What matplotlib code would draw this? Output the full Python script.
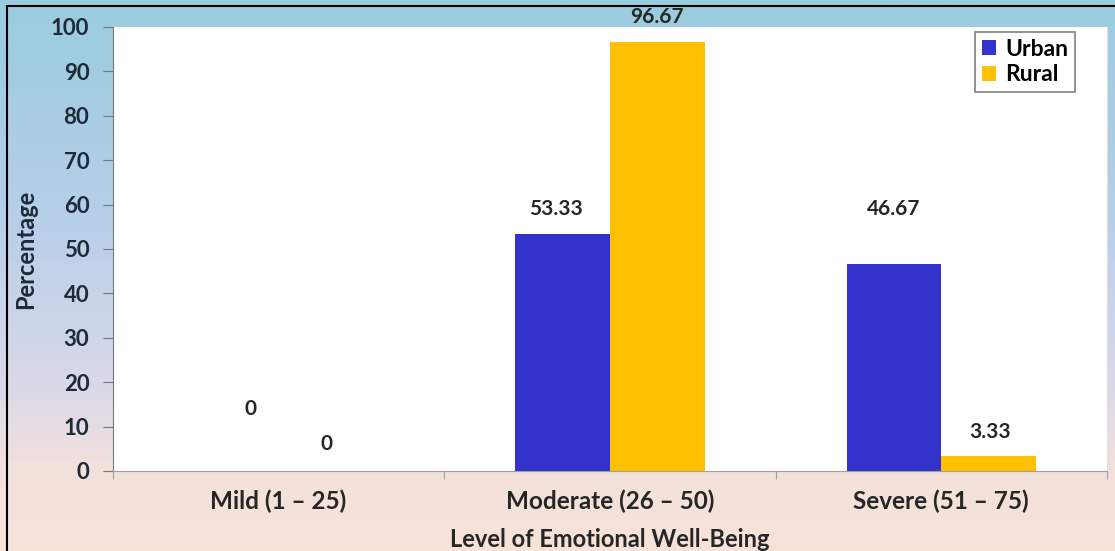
import numpy as np
import matplotlib.pyplot as plt
from matplotlib.colors import LinearSegmentedColormap
from matplotlib.lines import Line2D

categories = ['Mild (1 – 25)', 'Moderate (26 – 50)', 'Severe (51 – 75)']
urban = [0, 53.33, 46.67]
rural = [0, 96.67, 3.33]
yticks = [0, 10, 20, 30, 40, 50, 60, 70, 80, 90, 100]

plt.rcParams['font.family'] = ['Lato', 'DejaVu Sans']
plt.rcParams['font.weight'] = 'bold'
plt.rcParams['axes.labelweight'] = 'bold'

fig = plt.figure(figsize=(11.15, 5.51), dpi=100)

# background gradient: light blue at the top fading to peach at the bottom
bg = fig.add_axes([0, 0, 1, 1], zorder=-10)
cmap = LinearSegmentedColormap.from_list('bg', [
    (0.0, (0.60, 0.80, 0.87)),
    (0.40, (0.72, 0.81, 0.91)),
    (0.70, (0.85, 0.85, 0.91)),
    (0.85, (0.95, 0.88, 0.86)),
    (1.0, (0.97, 0.89, 0.85)),
])
bg.imshow(np.linspace(0, 1, 256).reshape(-1, 1), aspect='auto', cmap=cmap,
          extent=[0, 1, 0, 1])
bg.set_axis_off()

ax = fig.add_axes([0.1013, 0.1452, 0.8915, 0.8058])
ax.set_facecolor('white')

x = np.arange(len(categories))
w = 0.286
ax.bar(x - w / 2, urban, w, color='#3333cc', label='Urban', zorder=2)
ax.bar(x + w / 2, rural, w, color='#ffc000', label='Rural', zorder=2)

ax.set_xlim(-0.5, 2.5)
ax.set_ylim(0, 100)
ax.set_yticks(yticks)
ax.set_yticklabels([str(t) for t in yticks], fontweight='bold')
ax.set_xticks([-0.5, 0.5, 1.5, 2.5], minor=False)
ax.set_xticklabels([])
ax.set_xticks(x, minor=True)
ax.set_xticklabels(categories, minor=True, fontweight='bold')
ax.tick_params(axis='x', which='minor', length=0, pad=13, labelsize=17.5,
               labelcolor='#262626')
ax.tick_params(axis='x', which='major', length=6, color='#a0a0a0', direction='out')
ax.tick_params(axis='y', length=7, color='#707880', pad=10, labelsize=16,
               labelcolor='#1c2a3a')

ax.spines['top'].set_visible(False)
ax.spines['right'].set_color('#e0e0e0')
ax.spines['left'].set_color('#707880')
ax.spines['bottom'].set_color('#a0a0a0')

ax.set_ylabel('Percentage', fontsize=17, color='#1c2a3a', labelpad=10,
              fontweight='bold')
ax.set_xlabel('Level of Emotional Well-Being', fontsize=17, color='#262626',
              labelpad=11, fontweight='bold')

# value labels, placed where they sit in the source chart
urban_lab = [(0.057, 14), (-0.02, 59), (0.0, 59)]
rural_lab = [(0.0, 6), (0.0, 102.2), (0.005, 8.8)]
for i in range(len(categories)):
    dx, ly = urban_lab[i]
    ax.text(x[i] - w / 2 + dx, ly, f'{urban[i]:g}', ha='center', va='center',
            fontsize=15, fontweight='bold', color='#262626', clip_on=False)
    dx, ly = rural_lab[i]
    ax.text(x[i] + w / 2 + dx, ly, f'{rural[i]:g}', ha='center', va='center',
            fontsize=15, fontweight='bold', color='#262626', clip_on=False)

leg = ax.legend(loc='upper right', bbox_to_anchor=(0.968, 0.989),
                borderaxespad=0, prop={'size': 16.5, 'weight': 'bold'},
                frameon=True, fancybox=False, handlelength=0.6, handleheight=0.6,
                handletextpad=0.4, borderpad=0.3, labelspacing=0.2)
leg.get_frame().set_edgecolor('#606060')
leg.get_frame().set_linewidth(1.2)

# frame lines along the top and left edge
fig.add_artist(Line2D([0.0063, 0.0063], [0, 0.989], color='black', lw=1.5,
                      transform=fig.transFigure))
fig.add_artist(Line2D([0.0063, 1], [0.989, 0.989], color='black', lw=1.5,
                      transform=fig.transFigure))

fig.savefig('out.png', dpi=100)
